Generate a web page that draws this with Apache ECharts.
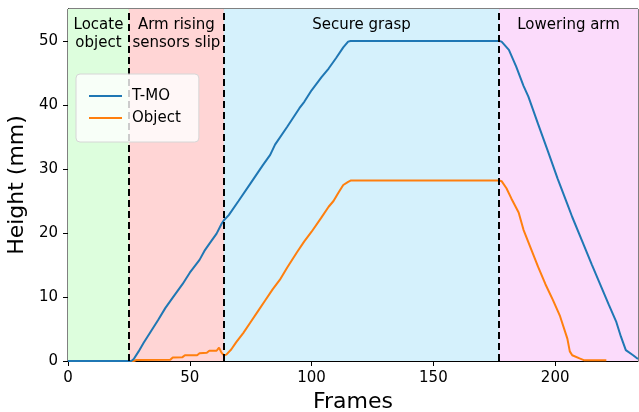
<!DOCTYPE html>
<html>
<head>
<meta charset="utf-8">
<script src="https://cdn.jsdelivr.net/npm/echarts@6/dist/echarts.min.js"></script>
<style>
html,body{margin:0;padding:0;background:#fff;}
#c{width:639px;height:412px;}
</style>
</head>
<body>
<div id="c"></div>
<script>
// ---- data ----
const tmo = [
  [0,0],[26,0],[27,0.3],[29,1.5],[31,2.8],[34,4.6],[37,6.4],[40,8.3],[43,9.9],[47,12.0],[50,13.8],
  [54,15.8],[56,17.2],[58,18.3],[61,19.9],[63,21.4],[64,22.0],[66,22.8],[70,25.0],[75,27.8],[80,30.6],
  [83,32.2],[85,33.8],[90,36.6],[95,39.5],[97,40.5],[100,42.3],[104,44.3],[107,45.7],[110,47.3],
  [113,49.0],[115,49.9],[116,50],[177,50],[178,49.9],[181,48.6],[184,46.0],[187,43.0],[189,41.3],
  [193,37.0],[197,32.8],[201,28.5],[205,24.5],[207,22.5],[211,18.8],[215,15.1],[219,11.5],[222,8.8],
  [225,6.2],[227,3.8],[229,1.7],[232,0.9],[234,0.3]
];
const objectH = [
  [0,0],[27,0],[28,0.15],[42,0.2],[43,0.55],[47,0.6],[48,0.9],[53,0.9],[54,1.2],[57,1.3],[58,1.6],
  [61,1.6],[62,2.1],[63,1.3],[64,0.9],[65,1.0],[67,1.8],[69,2.9],[72,4.4],[75,6.1],[78,7.8],[81,9.5],
  [84,11.2],[87,12.7],[90,14.6],[94,17.0],[97,18.7],[100,20.2],[104,22.4],[107,24.1],[109,25.0],
  [111,26.3],[113,27.5],[115,28.0],[116,28.2],[177,28.2],[178,28.1],[180,27.0],[182,25.4],[185,23.2],
  [187,20.5],[190,17.6],[193,14.7],[196,12.0],[199,9.6],[202,7.0],[205,3.5],[206,1.5],[207,0.9],
  [210,0.4],[212,0.1],[221,0.1]
];
const phaseNames = ['Locate\nobject', 'Arm rising\nsensors slip', 'Secure grasp', 'Lowering arm'];
const phaseBounds = [0, 25, 64, 177, 234];
const phaseColors = ['#ddfedd', '#ffd5d5', '#d5f1fc', '#fbdbfb'];
const dividers = [25, 64, 177];
const xTicks = [0, 50, 100, 150, 200];
const yTicks = [0, 10, 20, 30, 40, 50];
const seriesNames = ['T-MO', 'Object'];

const font = 'DejaVu Sans';
const chart = echarts.init(document.getElementById('c'), null, {renderer: 'canvas'});

const areas = phaseNames.map((n, i) => ([
  {name: n, xAxis: phaseBounds[i], itemStyle: {color: phaseColors[i]}},
  {xAxis: phaseBounds[i + 1]}
]));

chart.setOption({
  animation: false,
  textStyle: {fontFamily: font},
  grid: {left: 68, right: 1, top: 9, bottom: 51, outerBoundsMode: 'none', containLabel: false,
         show: true, borderColor: '#000', borderWidth: 1, backgroundColor: 'transparent'},
  legend: {
    data: seriesNames,
    orient: 'vertical',
    left: 76, top: 74,
    z: 10,
    padding: [13, 18, 15, 13],
    itemGap: 4,
    icon: 'rect',
    itemWidth: 33, itemHeight: 2,
    backgroundColor: 'rgba(255,255,255,0.8)',
    borderColor: '#d6d6d6', borderWidth: 1, borderRadius: 4,
    textStyle: {fontFamily: font, fontSize: 15, color: '#000', padding: [0, 0, 0, 5], lineHeight: 18}
  },
  xAxis: {
    type: 'value', min: 0, max: 234,
    name: 'Frames', nameLocation: 'middle', nameGap: 30,
    nameTextStyle: {fontFamily: font, fontSize: 22, color: '#000'},
    axisLine: {show: true, lineStyle: {color: '#000', width: 1}},
    axisTick: {show: true, length: 5, lineStyle: {color: '#000'}, customValues: xTicks},
    axisLabel: {fontFamily: font, fontSize: 15, color: '#000', margin: 10, customValues: xTicks},
    splitLine: {show: false}
  },
  yAxis: {
    type: 'value', min: 0, max: 55,
    name: 'Height (mm)', nameLocation: 'middle', nameGap: 37,
    nameTextStyle: {fontFamily: font, fontSize: 22, color: '#000'},
    axisLine: {show: true, lineStyle: {color: '#000', width: 1}},
    axisTick: {show: true, length: 5, lineStyle: {color: '#000'}, customValues: yTicks},
    axisLabel: {fontFamily: font, fontSize: 15, color: '#000', margin: 10, customValues: yTicks},
    splitLine: {show: false}
  },
  series: [
    {
      type: 'line', data: [], z: 1, silent: true,
      markArea: {
        silent: true,
        label: {show: true, position: 'insideTop', distance: 7, fontFamily: font, fontSize: 15, color: '#000', lineHeight: 18, align: 'center'},
        data: areas
      }
    },
    {
      name: seriesNames[0], type: 'line', data: tmo, symbol: 'none', z: 3,
      lineStyle: {color: '#1f77b4', width: 2}, itemStyle: {color: '#1f77b4'}
    },
    {
      name: seriesNames[1], type: 'line', data: objectH, symbol: 'none', z: 2,
      lineStyle: {color: '#ff7f0e', width: 2}, itemStyle: {color: '#ff7f0e'}
    },
    {
      type: 'line', data: [], z: 5, silent: true,
      markLine: {
        silent: true, symbol: 'none', label: {show: false},
        lineStyle: {color: '#000', type: [7, 4], width: 2},
        data: dividers.map(v => ({xAxis: v}))
      }
    }
  ]
});
</script>
</body>
</html>
